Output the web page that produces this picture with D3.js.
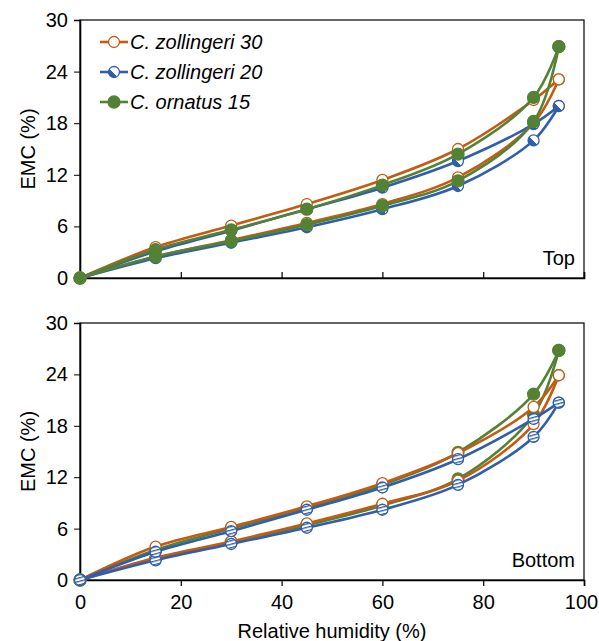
<!DOCTYPE html>
<html>
<head>
<meta charset="utf-8">
<script src="https://cdn.jsdelivr.net/npm/d3@7"></script>
<style>
  body { margin: 0; background: #fff; }
  text { font-family: "Liberation Sans", Arial, sans-serif; fill: #000; }
</style>
</head>
<body>
<div id="chart"></div>
<script>
// humedad relativa (%)
const rh = [0, 15, 30, 45, 60, 75, 90, 95];
const xTicks = [0, 20, 40, 60, 80, 100];
const yTicks = [0, 6, 12, 18, 24, 30];
const seriesNames = ["C. zollingeri 30", "C. zollingeri 20", "C. ornatus 15"];

// Panel superior (Top): adsorcion y desorcion
const topZol30Ads = [0, 2.5, 4.4, 6.4, 8.6, 11.7, 18.0, 23.1];
const topZol30Des = [0, 3.6, 6.1, 8.6, 11.4, 15.0, 20.7, 23.1];
const topZol20Ads = [0, 2.3, 4.1, 5.9, 8.0, 10.7, 16.0, 20.0];
const topZol20Des = [0, 3.1, 5.5, 8.0, 10.5, 13.6, 17.9, 20.0];
const topOrn15Ads = [0, 2.5, 4.3, 6.2, 8.4, 11.3, 18.2, 26.9];
const topOrn15Des = [0, 3.3, 5.6, 8.0, 10.8, 14.4, 21.0, 26.9];

// Panel inferior (Bottom)
const botZol30Ads = [0, 2.6, 4.5, 6.6, 8.9, 11.6, 18.2, 23.9];
const botZol30Des = [0, 3.9, 6.2, 8.6, 11.3, 14.8, 20.2, 23.9];
const botZol20Ads = [0, 2.3, 4.2, 6.1, 8.2, 11.1, 16.7, 20.7];
const botZol20Des = [0, 3.3, 5.7, 8.2, 10.8, 14.1, 18.8, 20.7];
const botOrn15Ads = [0, 2.5, 4.4, 6.4, 8.7, 11.8, 19.3, 26.8];
const botOrn15Des = [0, 3.5, 6.0, 8.4, 11.1, 14.9, 21.7, 26.8];

const width = 599, height = 641;
const orange = "#C55A11", blue = "#2F5EAD", green = "#548235";
const fontSize = "20px";

const svg = d3.select("#chart").append("svg")
  .attr("width", width).attr("height", height);

const defs = svg.append("defs");
// marcador medio relleno (panel superior)
const grad = defs.append("linearGradient").attr("id", "half")
  .attr("x1", 0).attr("y1", 1).attr("x2", 1).attr("y2", 0);
grad.append("stop").attr("offset", "45%").attr("stop-color", blue);
grad.append("stop").attr("offset", "45%").attr("stop-color", "#fff");
// marcador rayado (panel inferior)
const pat = defs.append("pattern").attr("id", "stripes")
  .attr("patternUnits", "userSpaceOnUse").attr("width", 4).attr("height", 3.4)
  .attr("patternTransform", "rotate(-15)");
pat.append("rect").attr("width", 4).attr("height", 3.4).attr("fill", "#fff");
pat.append("rect").attr("width", 4).attr("height", 1.3).attr("fill", blue);

const x = d3.scaleLinear().domain([0, 100]).range([80, 584]);
const yTop = d3.scaleLinear().domain([0, 30]).range([278, 20]);
const yBot = d3.scaleLinear().domain([0, 30]).range([580, 323]);

const line = (y) => d3.line()
  .x((d) => x(d[0])).y((d) => y(d[1]))
  .curve(d3.curveCatmullRom.alpha(0.5));

function drawPanel(y, series, label, tickDir, showXLabels) {
  const g = svg.append("g");
  // marco
  g.append("rect")
    .attr("x", x(0)).attr("y", y(30))
    .attr("width", x(100) - x(0)).attr("height", y(0) - y(30))
    .attr("fill", "none").attr("stroke", "#000").attr("stroke-width", 1.2);

  // eje Y
  const ya = g.append("g").attr("transform", `translate(${x(0)},0)`)
    .call(d3.axisLeft(y).tickValues(yTicks).tickSize(6).tickPadding(6));
  ya.select(".domain").attr("stroke-width", 1.6);
  ya.selectAll("text").style("font-size", fontSize)
    .style("font-family", "'Liberation Sans', Arial, sans-serif");

  // eje X
  const xAxis = (tickDir > 0 ? d3.axisBottom(x) : d3.axisTop(x))
    .tickValues(xTicks).tickSize(6).tickPadding(8);
  const xa = g.append("g").attr("transform", `translate(0,${y(0)})`).call(xAxis);
  xa.select(".domain").attr("stroke-width", 1.6);
  xa.selectAll(".tick line").attr("stroke-width", 1.2);
  xa.selectAll("text").style("font-size", fontSize)
    .style("font-family", "'Liberation Sans', Arial, sans-serif");
  if (!showXLabels) xa.selectAll("text").remove();
  else {
    xa.selectAll("text").attr("y", 15);
    // el "100" queda pegado al borde derecho
    xa.selectAll(".tick text").filter((d) => d === 100).attr("dx", -3);
  }

  // titulo eje Y
  g.append("text")
    .attr("transform", `translate(35,${(y(0) + y(30)) / 2}) rotate(-90)`)
    .attr("text-anchor", "middle").style("font-size", fontSize).text("EMC (%)");

  // etiqueta del panel
  g.append("text").attr("x", x(100) - 9).attr("y", y(0) - 13)
    .attr("text-anchor", "end").style("font-size", fontSize).text(label);

  // curvas y marcadores
  series.forEach((s) => {
    [s.ads, s.des].forEach((vals) => {
      const pts = rh.map((r, i) => [r, vals[i]]);
      g.append("path").datum(pts)
        .attr("d", line(y))
        .attr("fill", "none").attr("stroke", s.color).attr("stroke-width", 2.6);
      g.selectAll(null).data(pts).join("circle")
        .attr("cx", (d) => x(d[0])).attr("cy", (d) => y(d[1]))
        .attr("r", s.r).attr("fill", s.fill)
        .attr("stroke", s.color).attr("stroke-width", 1.3);
    });
  });
}

drawPanel(yTop, [
  { ads: topZol30Ads, des: topZol30Des, color: orange, fill: "#fff", r: 5.5 },
  { ads: topZol20Ads, des: topZol20Des, color: blue, fill: "url(#half)", r: 5.5 },
  { ads: topOrn15Ads, des: topOrn15Des, color: green, fill: green, r: 6 }
], "Top", -1, false);

drawPanel(yBot, [
  { ads: botOrn15Ads, des: botOrn15Des, color: green, fill: green, r: 6 },
  { ads: botZol30Ads, des: botZol30Des, color: orange, fill: "#fff", r: 5.5 },
  { ads: botZol20Ads, des: botZol20Des, color: blue, fill: "url(#stripes)", r: 5.5 }
], "Bottom", 1, true);

// titulo eje X
svg.append("text").attr("x", (x(0) + x(100)) / 2).attr("y", 638)
  .attr("text-anchor", "middle").style("font-size", fontSize)
  .text("Relative humidity (%)");

// leyenda
const legendItems = [
  { name: seriesNames[0], color: orange, fill: "#fff", r: 5.5 },
  { name: seriesNames[1], color: blue, fill: "url(#half)", r: 5.5 },
  { name: seriesNames[2], color: green, fill: green, r: 6 }
];
const leg = svg.append("g").selectAll("g").data(legendItems).join("g")
  .attr("transform", (d, i) => `translate(100,${42 + i * 30})`);
leg.append("line").attr("x1", 0).attr("x2", 28)
  .attr("stroke", (d) => d.color).attr("stroke-width", 2.6);
leg.append("circle").attr("cx", 14).attr("r", (d) => d.r)
  .attr("fill", (d) => d.fill).attr("stroke", (d) => d.color).attr("stroke-width", 1.3);
leg.append("text").attr("x", 30).attr("y", 7)
  .style("font-size", fontSize).style("font-style", "italic")
  .text((d) => d.name);
</script>
</body>
</html>
